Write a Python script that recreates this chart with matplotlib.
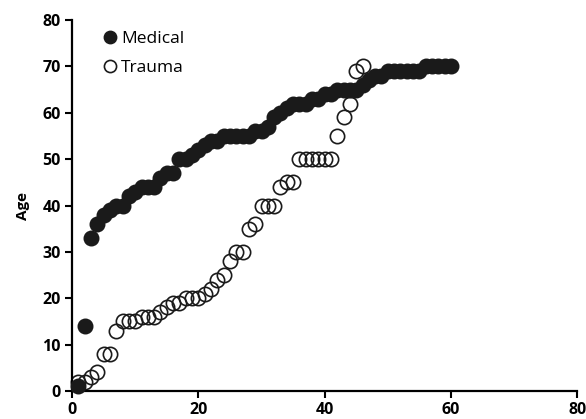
import numpy as np
import matplotlib
matplotlib.use("Agg")
from matplotlib import pyplot as plt

# Data
medical_x = list(range(1, 61))
medical_age = [1, 14, 33, 36, 38, 39, 40, 40, 42, 43,
               44, 44, 44, 46, 47, 47, 50, 50, 51, 52,
               53, 54, 54, 55, 55, 55, 55, 55, 56, 56,
               57, 59, 60, 61, 62, 62, 62, 63, 63, 64,
               64, 65, 65, 65, 65, 66, 67, 68, 68, 69,
               69, 69, 69, 69, 69, 70, 70, 70, 70, 70]
trauma_x = list(range(1, 47))
trauma_age = [2, 2, 3, 4, 8, 8, 13, 15, 15, 15,
              16, 16, 16, 17, 18, 19, 19, 20, 20, 20,
              21, 22, 24, 25, 28, 30, 30, 35, 36, 40,
              40, 40, 44, 45, 45, 50, 50, 50, 50, 50,
              50, 55, 59, 62, 69, 70]
x_ticks = [0, 20, 40, 60, 80]
y_ticks = [0, 10, 20, 30, 40, 50, 60, 70, 80]

plt.rcParams['font.family'] = ['Open Sans', 'DejaVu Sans']

fig = plt.figure(figsize=(5.86, 4.19), dpi=100)
ax = fig.add_axes([0.123, 0.067, 0.862, 0.885])

ax.plot(trauma_x, trauma_age, 'o', ms=10.3, mfc='none', mec='#1a1a1a', mew=1.2,
        label='Trauma', clip_on=False, zorder=2)
ax.plot(medical_x, medical_age, 'o', ms=10.3, mfc='#1a1a1a', mec='#1a1a1a', mew=1.2,
        label='Medical', clip_on=False, zorder=3)

ax.set_xlim(0, 80)
ax.set_ylim(0, 80)
ax.set_xticks(x_ticks)
ax.set_yticks(y_ticks)
for s in ['top', 'right']:
    ax.spines[s].set_visible(False)
for s in ['left', 'bottom']:
    ax.spines[s].set_linewidth(1.6)
ax.tick_params(direction='out', length=5, width=1.5, labelsize=11.5, pad=3)
for lab in ax.get_xticklabels() + ax.get_yticklabels():
    lab.set_fontweight('bold')
ax.set_ylabel('Age', fontsize=11, fontweight='bold', labelpad=9)

h, l = ax.get_legend_handles_labels()
leg = ax.legend(h[::-1], l[::-1], loc='upper left', bbox_to_anchor=(0.045, 0.99),
                frameon=False, fontsize=12.5, handletextpad=0.1, handlelength=1.0,
                labelspacing=0.75, borderaxespad=0, markerscale=0.85)

fig.savefig('out.png', dpi=100)
